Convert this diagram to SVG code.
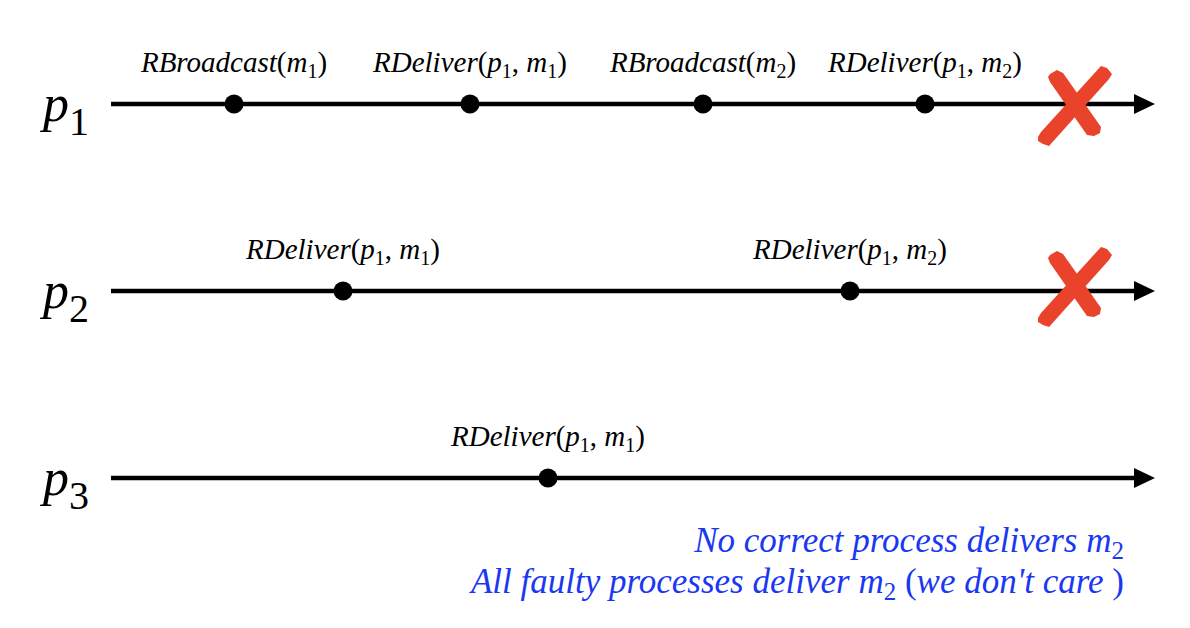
<svg xmlns="http://www.w3.org/2000/svg" width="1190" height="628" viewBox="0 0 1190 628">
<defs>
<style>
.tl{stroke:#000;stroke-width:4.5;fill:none}
.dot{fill:#000}
.lbl{font-family:"Liberation Serif","Times New Roman",serif;font-size:29px;fill:#000;text-anchor:middle}
.i{font-style:italic}
.sub{font-size:20px}
.proc{font-family:"Liberation Serif","Times New Roman",serif;font-size:52px;fill:#000}
.psub{font-size:40px}
.note{font-family:"Liberation Serif","Times New Roman",serif;font-size:35px;fill:#1a38f2;text-anchor:end}
.nsub{font-size:25px}
.x{fill:#e9432b}
</style>
<marker id="ah" markerWidth="21" markerHeight="20" refX="0" refY="10" orient="auto" markerUnits="userSpaceOnUse">
<path d="M0,0 L21,10 L0,20 Z" fill="#000"/>
</marker>
<g id="cross">
<path class="x" d="M-36,32 L-33,27 L27,-39 L33,-37 L38,-31 L35,-26 L-25,41 L-31,39 L-36,36 Z"/>
<path class="x" d="M-24,-31 L-17,-35 L-11,-32 L27,22 L26,28 L20,31 L13,30 L-24,-23 L-26,-28 Z"/>
</g>
</defs>
<g id="connectors">
<line class="tl" x1="111" y1="104" x2="1134" y2="104" marker-end="url(#ah)"/>
<line class="tl" x1="111" y1="291" x2="1134" y2="291" marker-end="url(#ah)"/>
<line class="tl" x1="111" y1="478" x2="1134" y2="478" marker-end="url(#ah)"/>
</g>
<g id="p1">
<text class="proc" x="43" y="121"><tspan class="i">p</tspan><tspan class="psub" dy="14">1</tspan></text>
</g>
<g id="p2">
<text class="proc" x="43" y="308"><tspan class="i">p</tspan><tspan class="psub" dy="14">2</tspan></text>
</g>
<g id="p3">
<text class="proc" x="43" y="495"><tspan class="i">p</tspan><tspan class="psub" dy="14">3</tspan></text>
</g>
<g id="e1">
<circle class="dot" cx="234" cy="104" r="9.5"/>
<text class="lbl" x="234" y="72"><tspan class="i">RBroadcast</tspan>(<tspan class="i">m</tspan><tspan class="sub" dy="6">1</tspan><tspan dy="-6">)</tspan></text>
</g>
<g id="e2">
<circle class="dot" cx="470" cy="104" r="9.5"/>
<text class="lbl" x="470" y="72"><tspan class="i">RDeliver</tspan>(<tspan class="i">p</tspan><tspan class="sub" dy="6">1</tspan><tspan dy="-6">, </tspan><tspan class="i">m</tspan><tspan class="sub" dy="6">1</tspan><tspan dy="-6">)</tspan></text>
</g>
<g id="e3">
<circle class="dot" cx="703" cy="104" r="9.5"/>
<text class="lbl" x="703" y="72"><tspan class="i">RBroadcast</tspan>(<tspan class="i">m</tspan><tspan class="sub" dy="6">2</tspan><tspan dy="-6">)</tspan></text>
</g>
<g id="e4">
<circle class="dot" cx="925" cy="104" r="9.5"/>
<text class="lbl" x="925" y="72"><tspan class="i">RDeliver</tspan>(<tspan class="i">p</tspan><tspan class="sub" dy="6">1</tspan><tspan dy="-6">, </tspan><tspan class="i">m</tspan><tspan class="sub" dy="6">2</tspan><tspan dy="-6">)</tspan></text>
</g>
<g id="e5">
<circle class="dot" cx="343" cy="291" r="9.5"/>
<text class="lbl" x="343" y="259"><tspan class="i">RDeliver</tspan>(<tspan class="i">p</tspan><tspan class="sub" dy="6">1</tspan><tspan dy="-6">, </tspan><tspan class="i">m</tspan><tspan class="sub" dy="6">1</tspan><tspan dy="-6">)</tspan></text>
</g>
<g id="e6">
<circle class="dot" cx="850" cy="291" r="9.5"/>
<text class="lbl" x="850" y="259"><tspan class="i">RDeliver</tspan>(<tspan class="i">p</tspan><tspan class="sub" dy="6">1</tspan><tspan dy="-6">, </tspan><tspan class="i">m</tspan><tspan class="sub" dy="6">2</tspan><tspan dy="-6">)</tspan></text>
</g>
<g id="e7">
<circle class="dot" cx="548" cy="478" r="9.5"/>
<text class="lbl" x="548" y="446"><tspan class="i">RDeliver</tspan>(<tspan class="i">p</tspan><tspan class="sub" dy="6">1</tspan><tspan dy="-6">, </tspan><tspan class="i">m</tspan><tspan class="sub" dy="6">1</tspan><tspan dy="-6">)</tspan></text>
</g>
<g id="crash1"><use href="#cross" x="1074" y="105"/></g>
<g id="crash2"><use href="#cross" x="1074" y="286"/></g>
<g id="note">
<text class="note" x="1124" y="552"><tspan class="i">No correct process delivers m</tspan><tspan class="nsub" dy="7">2</tspan></text>
<text class="note" x="1124" y="593"><tspan class="i">All faulty processes deliver m</tspan><tspan class="nsub" dy="7">2</tspan><tspan dy="-7"> (</tspan><tspan class="i">we don't care </tspan>)</text>
</g>
</svg>
